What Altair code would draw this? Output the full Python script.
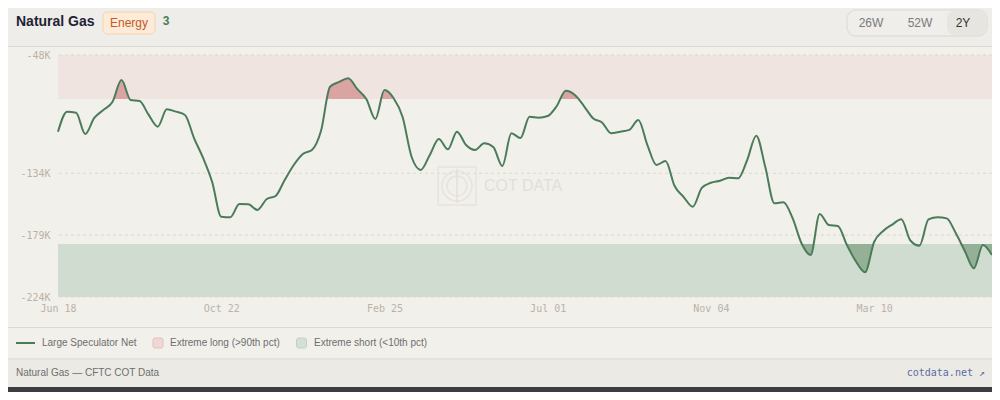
import altair as alt
import pandas as pd

# ---------------- data ----------------
start_date = "2024-06-18"
net_k = [-103.8, -89.2, -90.0, -105.5, -93.8, -88.0, -82.2, -66.2, -80.7, -81.5,
         -91.6, -100.1, -87.5, -89.2, -91.6, -108.4, -122.9, -140.4, -165.6, -166.0,
         -156.4, -156.6, -160.7, -152.9, -150.5, -138.9, -128.0, -120.0, -117.1, -103.3,
         -71.1, -67.6, -64.9, -72.7, -80.0, -94.5, -73.5, -79.3, -93.1, -122.2,
         -131.6, -120.7, -109.1, -116.6, -103.8, -113.5, -117.1, -112.2, -114.9, -128.7,
         -104.9, -108.4, -92.9, -93.6, -92.4, -85.1, -74.0, -77.1, -85.1, -94.0,
         -97.1, -104.9, -103.8, -102.5, -95.3, -113.5, -128.0, -125.1, -143.3, -151.3,
         -158.3, -144.7, -140.9, -139.4, -137.2, -137.7, -124.4, -106.7, -129.5, -155.9,
         -155.1, -166.5, -185.1, -193.5, -163.6, -171.6, -172.4, -186.2, -198.2, -206.0,
         -184.0, -176.0, -171.3, -167.5, -182.9, -186.7, -167.6, -166.0, -166.8, -177.5,
         -190.5, -203.1, -186.2, -193.5]
y_ticks = [-48, -134, -179, -224]
x_tick_dates = ["2024-06-18", "2024-10-22", "2025-02-25", "2025-07-01", "2025-11-04", "2026-03-10"]
p90 = -80.0
p10 = -185.5
y_lo, y_hi = -224, -48

dates = pd.date_range(start_date, periods=len(net_k), freq="7D")
df = pd.DataFrame({"date": dates.strftime("%Y-%m-%d"), "net": net_k})
df["net_clamp"] = df["net"].clip(lower=p10)
df["p90"] = p90
df["p10"] = p10

x_tick_ms = [int(pd.Timestamp(d).value // 10**6) for d in x_tick_dates]

# ---------------- style ----------------
W, H = 934, 242
BG = "#f2f0eb"
HEADER_BG = "#eeede9"
FOOTER_BG = "#ebeae5"
SEP = "#dcd9d1"
LINE = "#4a7c59"
RED_BAND = "#efe4e0"
RED_FILL = "#d9a4a1"
GREEN_BAND = "#d1dcd1"
GREEN_FILL = "#94b197"
SANS = "Liberation Sans"
MONO = "DejaVu Sans Mono"
AXIS_LABEL = "#bab2a7"

yscale = alt.Scale(domain=[y_lo, y_hi], nice=False, zero=False)
xscale = alt.Scale(type="utc")

Y_AXIS = alt.Axis(values=y_ticks, labelExpr="datum.value + 'K'",
                  labelFont=MONO, labelFontSize=10, labelColor=AXIS_LABEL,
                  labelPadding=8, ticks=False, domain=False, grid=False, title=None)
X_AXIS = alt.Axis(values=x_tick_ms, labelExpr="utcFormat(datum.value, '%b %d')",
                  labelFont=MONO, labelFontSize=10, labelColor=AXIS_LABEL,
                  labelPadding=6, ticks=False, domain=False, grid=False,
                  labelFlush=False, labelOverlap=False, title=None)


def yenc(field):
    return alt.Y(field, scale=yscale, axis=Y_AXIS, title=None)


def xenc():
    return alt.X("date:T", scale=xscale, axis=X_AXIS, title=None)


one = pd.DataFrame({"k": [0]})


def box(x1, x2, y1, y2, **kw):
    return alt.Chart(one).mark_rect(**kw).encode(
        x=alt.value(x1), x2=alt.value(x2), y=alt.value(y1), y2=alt.value(y2))


def label(x, y, text, **kw):
    kw.setdefault("font", SANS)
    kw.setdefault("baseline", "middle")
    return alt.Chart(one).mark_text(text=text, **kw).encode(x=alt.value(x), y=alt.value(y))


def hline(x1, x2, y, color=SEP, width=1):
    return alt.Chart(one).mark_rule(color=color, strokeWidth=width).encode(
        x=alt.value(x1), x2=alt.value(x2), y=alt.value(y))


def band(lo, hi, color):
    d = pd.DataFrame({"lo": [lo], "hi": [hi]})
    return alt.Chart(d).mark_rect(color=color, opacity=1).encode(
        x=alt.value(0), x2=alt.value(W), y=yenc("lo:Q"), y2="hi:Q")


green_band = band(y_lo, p10, GREEN_BAND)
green_area = alt.Chart(df).mark_area(interpolate="monotone", color=GREEN_FILL, opacity=1).encode(
    x=xenc(), y=yenc("net:Q"), y2="p10:Q")
cover_upper = band(p10, y_hi, BG)
red_band = band(p90, y_hi, RED_BAND)
red_area = alt.Chart(df).mark_area(interpolate="monotone", color=RED_FILL, opacity=1).encode(
    x=xenc(), y=yenc("net_clamp:Q"), y2="p90:Q")
cover_mid = band(p10, p90, BG)

grid = alt.Chart(pd.DataFrame({"t": y_ticks})).mark_rule(
    color="#dcd7cd", strokeDash=[3, 3], strokeWidth=1).encode(y=yenc("t:Q"))

line = alt.Chart(df).mark_line(interpolate="monotone", color=LINE, strokeWidth=2).encode(
    x=xenc(), y=yenc("net:Q"))

# watermark
WM = "#e3dfd8"
wm_square = alt.Chart(one).mark_point(shape="square", size=38 * 38, filled=False,
                                      color=WM, strokeWidth=1.5).encode(
    x=alt.value(399), y=alt.value(131))
wm_c1 = alt.Chart(one).mark_point(shape="circle", size=30 * 30, filled=False,
                                  color=WM, strokeWidth=1.5).encode(x=alt.value(399), y=alt.value(131))
wm_c2 = alt.Chart(one).mark_point(shape="circle", size=20 * 20, filled=False,
                                  color=WM, strokeWidth=1.5).encode(x=alt.value(399), y=alt.value(131))
wm_bar = alt.Chart(one).mark_rule(color=WM, strokeWidth=1.5).encode(
    x=alt.value(399), y=alt.value(114), y2=alt.value(148))
wm_text = label(426, 131, "COT DATA", fontSize=16, color=WM, align="left")

# header
header = [
    box(-50, W, -47, -9, color=HEADER_BG),
    hline(-50, W, -8.5),
    label(-42, -33, "Natural Gas", fontSize=14, fontWeight="bold", color="#1f2235", align="left"),
    box(45, 97, -43, -21, color="#fdebd8", stroke="#f4d3ad", strokeWidth=1, cornerRadius=4),
    label(71, -32.5, "Energy", fontSize=12, color="#c2582b", align="center"),
    label(108, -34, "3", fontSize=12, fontWeight="bold", color="#4a7c59", align="center"),
    box(789, 929, -45, -19, color="#efeeea", stroke="#dcd9d1", strokeWidth=1, cornerRadius=9),
    box(889, 928, -44, -20, color="#e7e5df", cornerRadius=8),
    label(813, -32, "26W", fontSize=12, color="#7a7a7a", align="center"),
    label(862, -32, "52W", fontSize=12, color="#7a7a7a", align="center"),
    label(905, -32, "2Y", fontSize=12, color="#333333", align="center"),
]

# legend + footer
footer = [
    hline(-50, W, 272.5),
    hline(-42, -23, 288, color=LINE, width=2),
    label(-16, 288, "Large Speculator Net", fontSize=10, color="#6e6e6e", align="left"),
    box(95, 105, 283, 293, color="#efd8d4", stroke="#e3bfba", strokeWidth=1, cornerRadius=2),
    label(112, 288, "Extreme long (>90th pct)", fontSize=10, color="#6e6e6e", align="left"),
    box(238.5, 248.5, 283, 293, color="#d6dfd5", stroke="#c4cfc3", strokeWidth=1, cornerRadius=2),
    label(256, 288, "Extreme short (<10th pct)", fontSize=10, color="#6e6e6e", align="left"),
    box(-50, W, 304, 332, color=FOOTER_BG),
    hline(-50, W, 304),
    label(-42, 318, "Natural Gas \u2014 CFTC COT Data", fontSize=10, color="#6e6e6e", align="left"),
    label(927, 318, "cotdata.net \u2197", fontSize=10, font=MONO, color="#5a6ea3", align="right"),
    box(-50, W, 332, 345, color="#3a3d41"),
]

layers = ([green_band, green_area, cover_upper, red_band, red_area, cover_mid, grid,
           wm_square, wm_c1, wm_c2, wm_bar, wm_text, line] + header + footer)

chart = alt.layer(*layers).properties(
    width=W, height=H,
    padding={"left": 50, "top": 47, "right": 0, "bottom": 95},
    autosize=alt.AutoSizeParams(type="none"),
    background=BG,
).configure_view(stroke=None)

chart.save("out.html", embed_options={"renderer": "svg", "actions": False})
